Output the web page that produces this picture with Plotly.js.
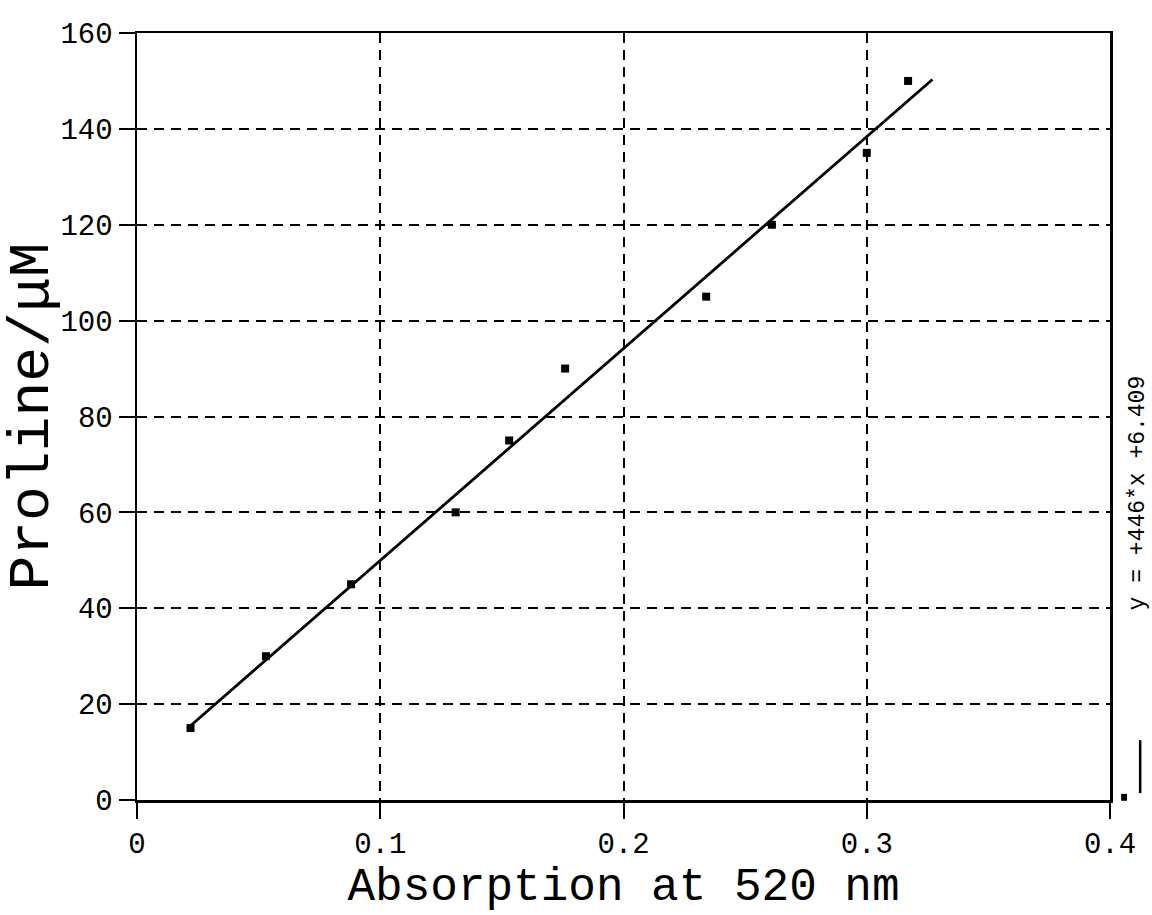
<!DOCTYPE html>
<html>
<head>
<meta charset="utf-8">
<script src="https://cdn.plot.ly/plotly-3.0.1.min.js"></script>
<style>html,body{margin:0;padding:0;background:#fff;}#chart{width:1152px;height:915px;}</style>
</head>
<body>
<div id="chart"></div>
<script>
// Data
const absorption = [0.022, 0.053, 0.088, 0.131, 0.153, 0.176, 0.234, 0.261, 0.300, 0.317];
const proline    = [15, 30, 45, 60, 75, 90, 105, 120, 135, 150];
const fitX = [0.022, 0.327];
const fitY = [15.5, 150.3];
const xTicks = [0, 0.1, 0.2, 0.3, 0.4];
const xTickText = ["0", "0.1", "0.2", "0.3", "0.4"];
const yTicks = [0, 20, 40, 60, 80, 100, 120, 140, 160];
const yTickText = ["0", "20", "40", "60", "80", "100", "120", "140", "160"];
const fitLabel = "y = +446*x +6.409";

const mono = "Liberation Mono, Courier New, monospace";

const traces = [
  {
    x: fitX, y: fitY, mode: "lines", type: "scatter",
    line: {color: "#000", width: 2.8}, hoverinfo: "skip", showlegend: false
  },
  {
    x: absorption, y: proline, mode: "markers", type: "scatter",
    marker: {symbol: "square", size: 8, color: "#000"}, showlegend: false
  }
];

const layout = {
  width: 1152, height: 915,
  margin: {l: 137, r: 42, t: 33, b: 115},
  paper_bgcolor: "#fff", plot_bgcolor: "#fff",
  showlegend: false,
  font: {family: mono, color: "#000"},
  xaxis: {
    range: [0, 0.4], tickvals: xTicks, ticktext: xTickText,
    showline: true, mirror: true, linecolor: "#000", linewidth: 2.5,
    ticks: "outside", ticklen: 16, tickwidth: 2, tickcolor: "#000",
    showgrid: true, gridcolor: "#000", gridwidth: 2, griddash: "10px,7px",
    zeroline: false,
    tickfont: {family: mono, size: 29, color: "#000"},
    title: {text: "Absorption at 520 nm", font: {family: mono, size: 46, color: "#000"}, standoff: 6}
  },
  yaxis: {
    range: [0, 160], tickvals: yTicks, ticktext: yTickText,
    showline: true, mirror: true, linecolor: "#000", linewidth: 2.5,
    ticks: "outside", ticklen: 16, tickwidth: 2, tickcolor: "#000",
    showgrid: true, gridcolor: "#000", gridwidth: 2, griddash: "10px,7px",
    zeroline: false,
    tickfont: {family: mono, size: 29, color: "#000"},
    title: {text: "Proline/μM", font: {family: mono, size: 58, color: "#000"}, standoff: 8}
  },
  shapes: [
    {type: "line", xref: "paper", yref: "paper", x0: 1.031, x1: 1.031, y0: 0.009, y1: 0.078,
     line: {color: "#000", width: 2.5}},
    {type: "rect", xref: "paper", yref: "paper", x0: 1.0115, x1: 1.0175, y0: -0.001, y1: 0.008,
     fillcolor: "#000", line: {width: 0}}
  ],
  annotations: [
    {text: fitLabel, xref: "paper", yref: "paper", x: 1.029, y: 0.40, textangle: -90,
     showarrow: false, xanchor: "center", yanchor: "middle",
     font: {family: mono, size: 23, color: "#000"}}
  ]
};

Plotly.newPlot("chart", traces, layout, {displayModeBar: false, staticPlot: true});
</script>
</body>
</html>
